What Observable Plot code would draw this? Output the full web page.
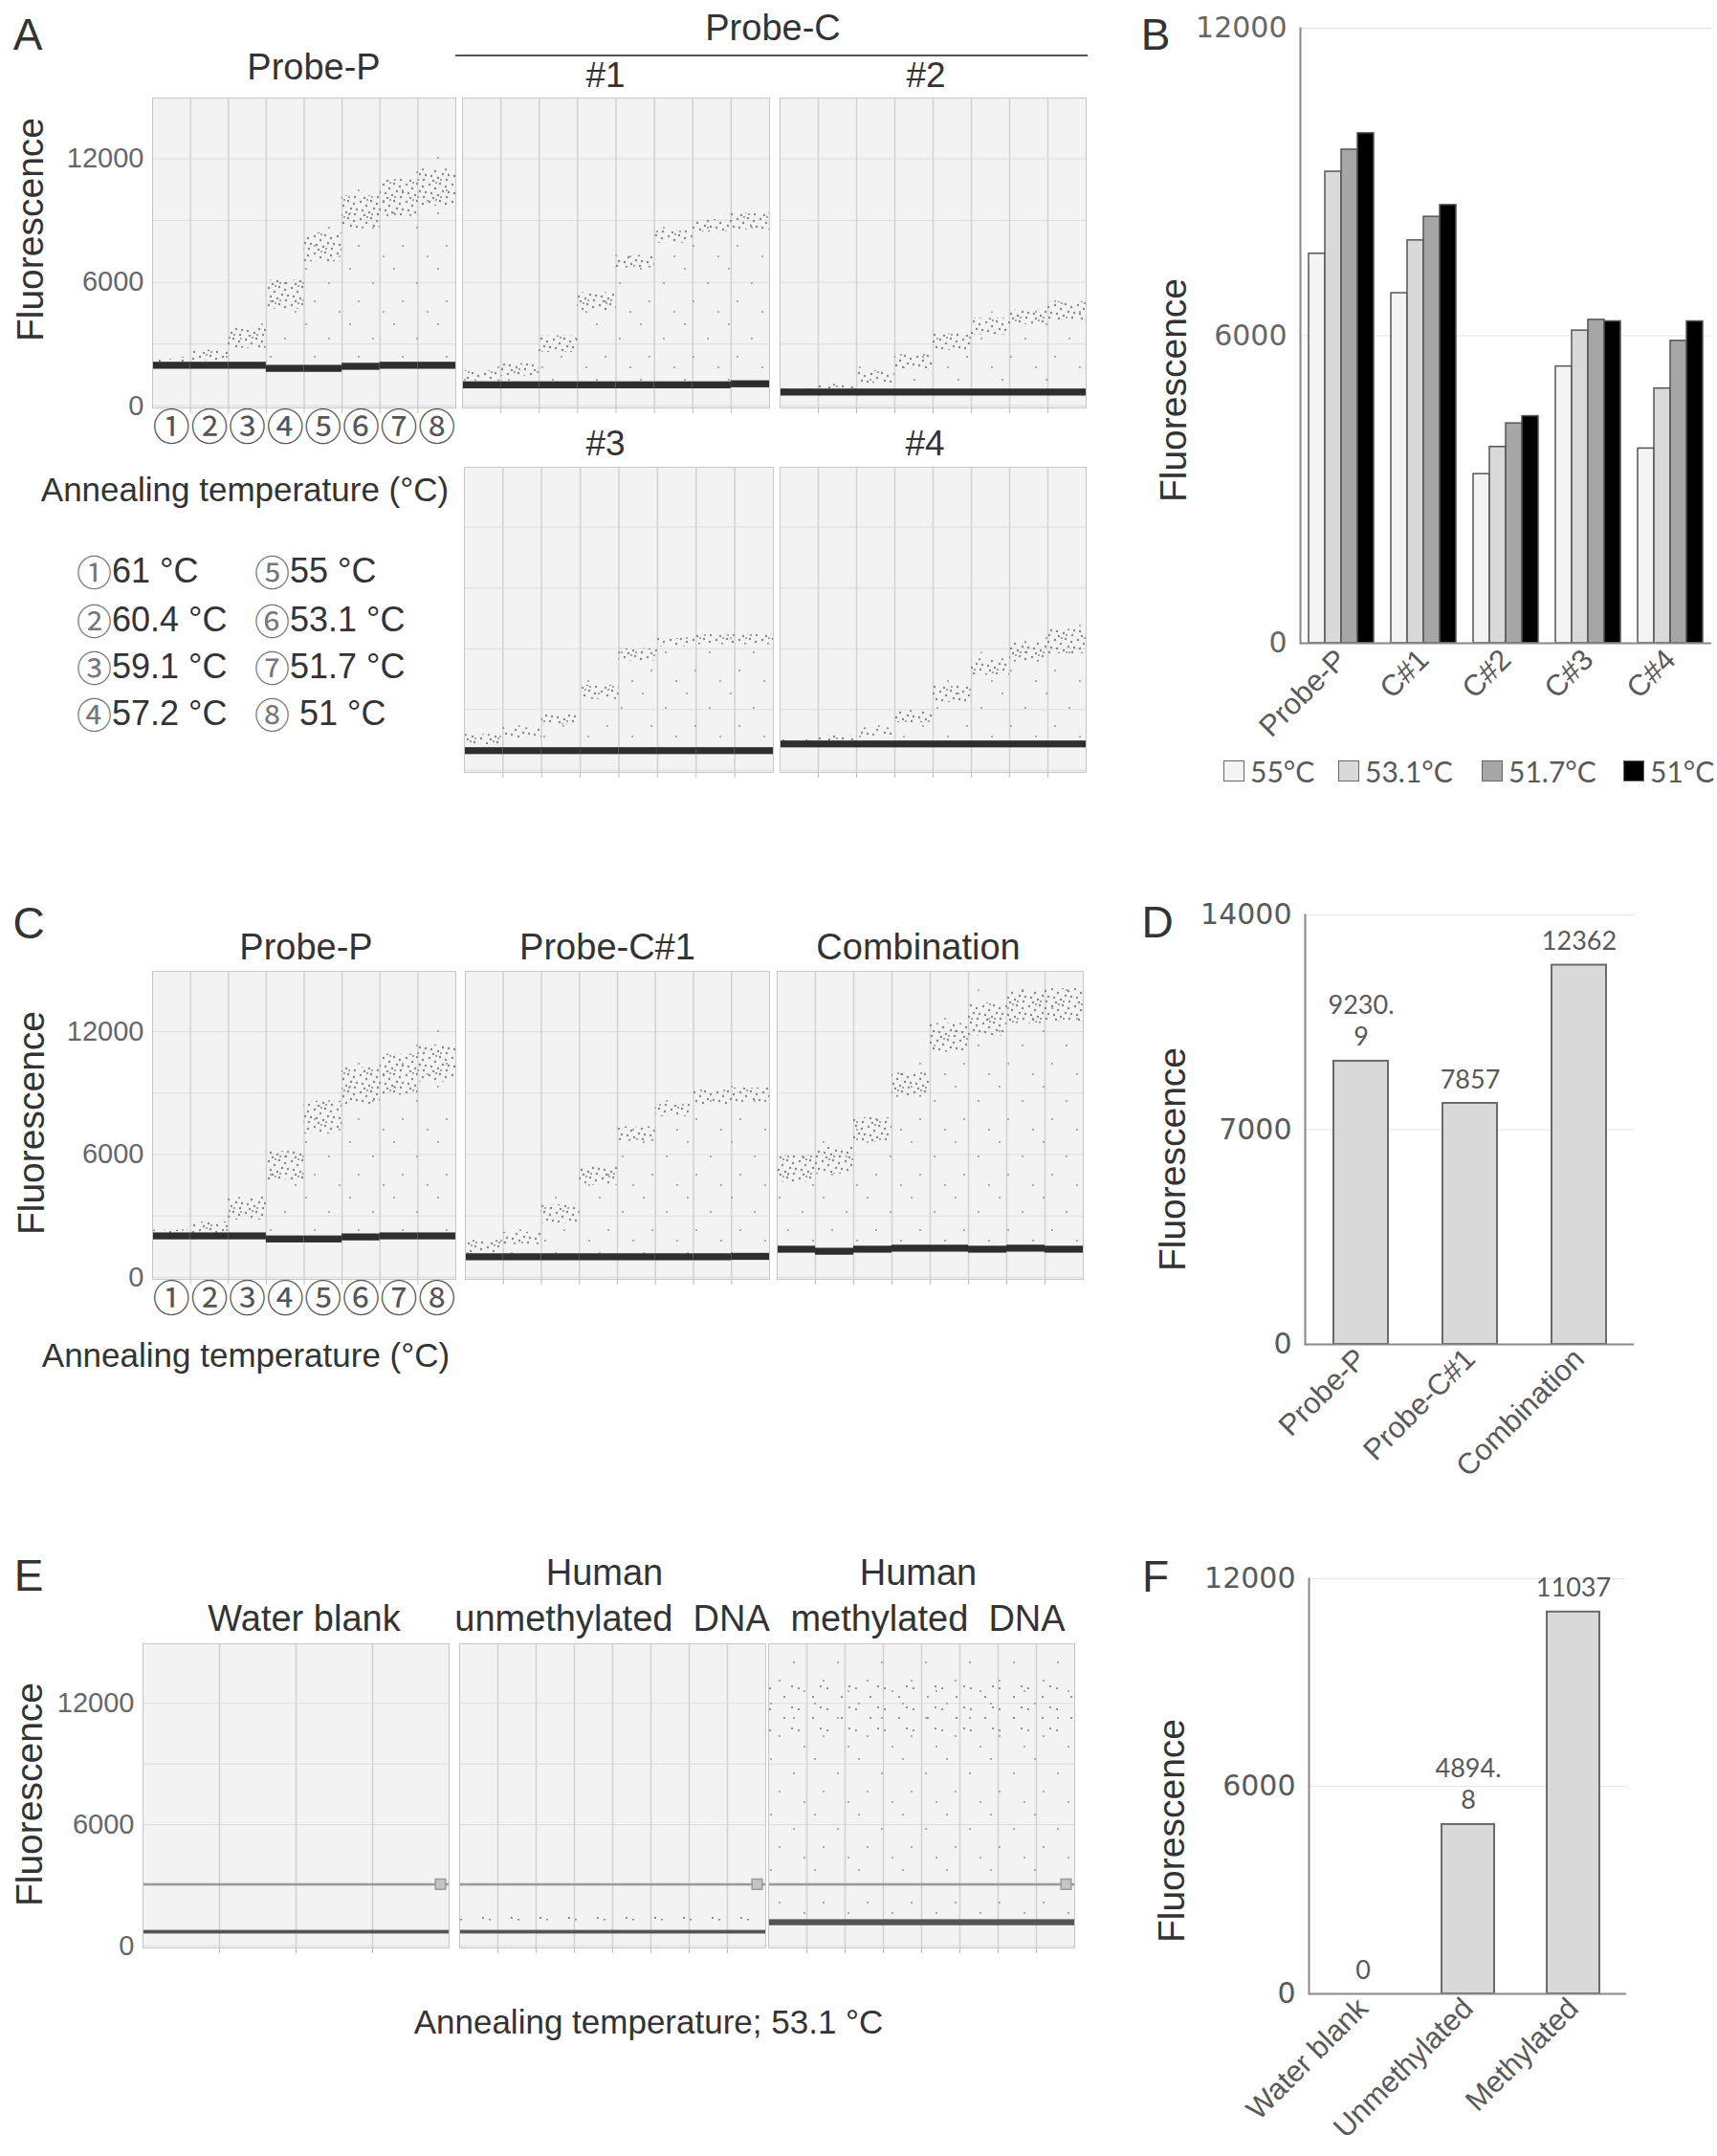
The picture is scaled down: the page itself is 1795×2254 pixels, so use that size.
<!DOCTYPE html>
<html>
<head>
<meta charset="utf-8">
<script src="https://cdn.jsdelivr.net/npm/d3@7"></script>
<script src="https://cdn.jsdelivr.net/npm/@observablehq/plot@0.6"></script>
<style>
  body { margin: 0; background: #fff; }
  #fig { position: relative; width: 1795px; height: 2254px; overflow: hidden;
         font-family: "Liberation Sans", Arial, sans-serif; color: #333; }
  .abs { position: absolute; }
  .c { position: absolute; transform: translate(-50%, -50%); white-space: pre; line-height: 1; }
  .letter { font-size: 46px; color: #333; }
  .title { font-size: 38px; color: #333; }
  .sub { font-size: 37px; color: #333; }
  .xlab { font-size: 35px; color: #333; }
  .ylab { font-size: 39px; color: #333; transform: translate(-50%, -50%) rotate(-90deg); }
  .circ { font-family: "Noto Sans CJK JP", sans-serif; color: #777; font-size: 37px; line-height: 1; }
  .leg { position: absolute; height: 40px; display: flex; align-items: center; font-size: 36px; color: #333;
         white-space: pre; line-height: 1; transform: translateY(-50%); }
  .bleg { position: absolute; display: flex; align-items: center; font-family: Lato, sans-serif;
          font-size: 30px; color: #595959; transform: translateY(-50%); }
  .bleg span.sq { display: inline-block; width: 20px; height: 20px; border: 1.5px solid #666; margin-right: 6px; }
  .probe-c-rule { position: absolute; left: 476px; top: 57px; width: 661px; border-top: 2px solid #555; }
</style>
</head>
<body>
<svg width="0" height="0" style="position:absolute">
  <defs>
    <pattern id="clus" width="24" height="18" patternUnits="userSpaceOnUse">
      <g fill="#858585">
        <circle cx="2" cy="3" r="1.2"/><circle cx="8" cy="7" r="1.2"/><circle cx="13" cy="2" r="1.2"/>
        <circle cx="19" cy="5" r="1.2"/><circle cx="22" cy="11" r="1.2"/><circle cx="4" cy="12" r="1.2"/>
        <circle cx="11" cy="14" r="1.2"/><circle cx="16" cy="10" r="1.2"/><circle cx="20" cy="16" r="1.2"/>
        <circle cx="6" cy="17" r="1.2"/><circle cx="14" cy="16" r="1"/><circle cx="9" cy="1" r="1"/>
      </g>
    </pattern>
    <pattern id="rain" width="46" height="58" patternUnits="userSpaceOnUse">
      <g fill="#999">
        <circle cx="5" cy="7" r="1.1"/><circle cx="29" cy="22" r="1.1"/>
        <circle cx="14" cy="41" r="1.1"/><circle cx="40" cy="52" r="1.1"/>
      </g>
    </pattern>
    <pattern id="sparse" width="30" height="22" patternUnits="userSpaceOnUse">
      <g fill="#7a7a7a">
        <circle cx="4" cy="5" r="1.1"/><circle cx="19" cy="14" r="1.1"/><circle cx="27" cy="3" r="1.1"/>
      </g>
    </pattern>
  </defs>
</svg>

<div id="fig">
  <div class="c letter" style="left:29px;top:36px">A</div>
  <div class="c letter" style="left:1208px;top:36px">B</div>
  <div class="c letter" style="left:30px;top:965px">C</div>
  <div class="c letter" style="left:1210px;top:964px">D</div>
  <div class="c letter" style="left:30px;top:1647px">E</div>
  <div class="c letter" style="left:1208px;top:1648px">F</div>

  <div class="c title" style="left:328px;top:70px">Probe-P</div>
  <div class="c title" style="left:808px;top:29px">Probe-C</div>
  <div class="probe-c-rule"></div>
  <div class="c sub" style="left:633px;top:78px">#1</div>
  <div class="c sub" style="left:968px;top:78px">#2</div>
  <div class="c sub" style="left:633px;top:463px">#3</div>
  <div class="c sub" style="left:967px;top:463px">#4</div>
  <div class="c ylab" style="left:31px;top:240px">Fluorescence</div>
  <div class="c xlab" style="left:256px;top:511px">Annealing temperature (°C)</div>

  <div class="c title" style="left:320px;top:990px">Probe-P</div>
  <div class="c title" style="left:635px;top:990px">Probe-C#1</div>
  <div class="c title" style="left:960px;top:990px">Combination</div>
  <div class="c ylab" style="left:32px;top:1174px">Fluorescence</div>
  <div class="c xlab" style="left:257px;top:1416px">Annealing temperature (°C)</div>

  <div class="c title" style="left:318px;top:1692px">Water blank</div>
  <div class="c title" style="left:632px;top:1644px">Human</div>
  <div class="c title" style="left:640px;top:1692px">unmethylated  DNA</div>
  <div class="c title" style="left:960px;top:1644px">Human</div>
  <div class="c title" style="left:970px;top:1692px">methylated  DNA</div>
  <div class="c ylab" style="left:30px;top:1876px">Fluorescence</div>
  <div class="c xlab" style="left:678px;top:2113px">Annealing temperature; 53.1 °C</div>

  <div class="c ylab" style="left:1226px;top:408px">Fluorescence</div>
  <div class="c ylab" style="left:1225px;top:1212px">Fluorescence</div>
  <div class="c ylab" style="left:1224px;top:1914px">Fluorescence</div>
</div>

<script>
// wells and annealing temperatures
const wells = [0, 1, 2, 3, 4, 5, 6, 7];
const circled = ["①", "②", "③", "④", "⑤", "⑥", "⑦", "⑧"];
const annealTemps = ["61 °C", "60.4 °C", "59.1 °C", "57.2 °C", "55 °C", "53.1 °C", "51.7 °C", " 51 °C"];
const yTicks = [0, 6000, 12000];
const yGrid = [0, 3000, 6000, 9000, 12000];

// A: droplet amplitudes per well (negative band, positive cluster centre, cluster half-spread)
const pNeg = [1950, 1950, 1950, 1800, 1800, 1900, 1950, 1950];
const pPos = [2100, 2450, 3300, 5400, 7700, 9400, 10100, 10600];
const pSpread = [150, 250, 500, 700, 700, 800, 900, 900];
const c1Neg = [1000, 1000, 1000, 1000, 1000, 1000, 1000, 1050];
const c1Pos = [1450, 1750, 3000, 5050, 7000, 8200, 8750, 8950];
const c1Spread = [250, 300, 400, 450, 300, 300, 300, 400];
const c2Neg = [650, 650, 650, 650, 650, 650, 650, 650];
const c2Pos = [720, 850, 1400, 2150, 3100, 3850, 4300, 4600];
const c2Spread = [120, 200, 300, 350, 400, 400, 350, 450];
const c3Neg = [950, 950, 950, 950, 950, 950, 950, 950];
const c3Pos = [1520, 1850, 2500, 3850, 5700, 6300, 6450, 6450];
const c3Spread = [250, 250, 250, 350, 300, 200, 250, 250];
const c4Neg = [1280, 1280, 1280, 1280, 1280, 1280, 1280, 1280];
const c4Pos = [1400, 1550, 1900, 2650, 3750, 5100, 5850, 6350];
const c4Spread = [100, 150, 200, 300, 400, 400, 500, 600];

// C: Probe-P, Probe-C#1 and the combination
const cpNeg = [2000, 2000, 2000, 1850, 1850, 1950, 2000, 2000];
const cpPos = [2150, 2400, 3350, 5450, 7800, 9350, 9900, 10450];
const cpSpread = [150, 300, 550, 700, 800, 900, 1000, 900];
const cc1Neg = [980, 980, 980, 980, 980, 980, 980, 1000];
const cc1Pos = [1500, 1900, 3100, 4950, 7000, 8150, 8800, 8900];
const cc1Spread = [300, 300, 450, 450, 350, 300, 350, 350];
const comboNeg = [1350, 1250, 1350, 1400, 1400, 1350, 1400, 1350];
const comboPos = [5300, 5700, 7200, 9400, 11700, 12600, 13200, 13300];
const comboSpread = [650, 650, 600, 600, 700, 800, 800, 800];

// E: 53.1 °C run
const eNeg = [680, 680, 1150];
const ePos = [null, 1350, 11900];
const eSpread = [0, 110, 1300];
const eThreshold = 3050;

// B: mean amplitude of positive droplets
const bGroups = ["Probe-P", "C#1", "C#2", "C#3", "C#4"];
const bTemps = ["55°C", "53.1°C", "51.7°C", "51°C"];
const b55 = [7600, 6830, 3300, 5400, 3800];
const b531 = [9200, 7860, 3830, 6100, 4970];
const b517 = [9630, 8320, 4290, 6310, 5900];
const b51 = [9950, 8550, 4430, 6280, 6280];
const bFills = ["#f4f4f4", "#d9d9d9", "#a6a6a6", "#000000"];

// D and F
const dCats = ["Probe-P", "Probe-C#1", "Combination"];
const dValues = [9230.9, 7857, 12362];
const dLabels = ["9230.\n9", "7857", "12362"];
const fCats = ["Water blank", "Unmethylated", "Methylated"];
const fValues = [0, 4894.8, 11037];
const fLabels = ["0", "4894.\n8", "11037"];

const fig = document.getElementById("fig");
const baseStyle = {fontFamily: "Liberation Sans, Arial, sans-serif", background: "transparent", overflow: "visible"};
const plain = (d) => String(d);

function place(node, left, top) {
  const div = document.createElement("div");
  div.className = "abs";
  div.style.left = left + "px";
  div.style.top = top + "px";
  div.appendChild(node);
  fig.appendChild(div);
}

function droplets(p) {
  const rows = wells.map((i) => ({
    well: i,
    neg: p.neg[i],
    pos: p.pos ? p.pos[i] : null,
    spread: p.spread ? p.spread[i] : 0,
  }));
  const pos = rows.filter((d) => d.pos != null);
  const x2 = (d) => d.well + 1;
  const ml = p.yAxis ? 120 : 2;
  const mb = p.xAxis ? 60 : 10;
  const chart = Plot.plot({
    width: p.W + ml + 2,
    height: p.H + 2 + mb,
    marginLeft: ml, marginRight: 2, marginTop: 2, marginBottom: mb,
    x: {domain: [0, 8], axis: null},
    y: {domain: [-100, 14950], axis: null},
    style: baseStyle,
    marks: [
      Plot.frame({fill: "#f3f3f3", stroke: "none"}),
      Plot.gridY(yGrid, {stroke: "#dcdcdc", strokeOpacity: 1}),
      Plot.ruleX(p.edges, {stroke: "#d2d2d2", strokeWidth: 1.5}),
      p.rain ? Plot.rect(pos, {x1: "well", x2, y1: "neg", y2: (d) => d.pos + d.spread * 1.8, fill: "url(#rain)"}) : null,
      Plot.rect(pos, {x1: "well", x2, y1: (d) => d.pos - d.spread, y2: (d) => d.pos + d.spread, fill: `url(#${p.pat || "clus"})`}),
      Plot.rect(rows, {x1: "well", x2, y1: (d) => d.neg - p.band, y2: (d) => d.neg + p.band, fill: p.negFill || "#2e2e2e"}),
      p.threshold ? Plot.ruleY([p.threshold], {stroke: "#9a9a9a", strokeWidth: 2.5}) : null,
      p.threshold ? Plot.dot([p.threshold], {y: (d) => d, frameAnchor: "right", symbol: "square", r: 6, fill: "#c4c4c4", stroke: "#9a9a9a", dx: -9}) : null,
      Plot.axisX(p.edges, {tickSize: 6, tickFormat: () => "", color: "#bbb", label: null}),
      p.yAxis ? Plot.axisY(yTicks, {tickSize: 0, tickPadding: 9, fontSize: 29, color: "#666", tickFormat: plain, label: null}) : null,
      p.xAxis ? Plot.axisX(wells.map((i) => i + 0.5), {tickSize: 0, tickPadding: 6, tickFormat: (v) => circled[Math.floor(v)], fontSize: 39, fontFamily: "Noto Sans CJK JP", color: "#555", label: null}) : null,
      Plot.frame({stroke: "#c6c6c6"}),
    ],
  });
  place(chart, p.L - ml, p.T - 2);
}

const eighths = [1, 2, 3, 4, 5, 6, 7];
const quarters = [2, 4, 6];
const bandA = 170;

// Panel A
droplets({L: 159, T: 102, W: 317, H: 324, neg: pNeg, pos: pPos, spread: pSpread, band: bandA, rain: true, edges: eighths, yAxis: true, xAxis: true});
droplets({L: 483, T: 102, W: 321, H: 324, neg: c1Neg, pos: c1Pos, spread: c1Spread, band: bandA, rain: true, edges: eighths});
droplets({L: 815, T: 102, W: 320, H: 324, neg: c2Neg, pos: c2Pos, spread: c2Spread, band: bandA, rain: true, edges: eighths});
droplets({L: 485, T: 488, W: 323, H: 319, neg: c3Neg, pos: c3Pos, spread: c3Spread, band: bandA, rain: true, edges: eighths});
droplets({L: 815, T: 488, W: 320, H: 319, neg: c4Neg, pos: c4Pos, spread: c4Spread, band: bandA, rain: true, edges: eighths});

// Panel C
droplets({L: 159, T: 1015, W: 317, H: 322, neg: cpNeg, pos: cpPos, spread: cpSpread, band: bandA, rain: true, edges: eighths, yAxis: true, xAxis: true});
droplets({L: 486, T: 1015, W: 318, H: 322, neg: cc1Neg, pos: cc1Pos, spread: cc1Spread, band: bandA, rain: true, edges: eighths});
droplets({L: 812, T: 1015, W: 320, H: 322, neg: comboNeg, pos: comboPos, spread: comboSpread, band: bandA, rain: true, edges: eighths});

// Panel E
const eL = [149, 480, 803];
[0, 1, 2].forEach((k) => {
  droplets({
    L: eL[k], T: 1718, W: 320, H: 318,
    neg: wells.map(() => eNeg[k]),
    pos: ePos[k] == null ? null : wells.map(() => ePos[k]),
    spread: wells.map(() => eSpread[k]),
    band: k === 2 ? 150 : 90, negFill: "#555",
    rain: k === 2, pat: "sparse",
    edges: k === 0 ? quarters : eighths,
    threshold: eThreshold, yAxis: k === 0,
  });
});

// Panel B
const bTable = bGroups.flatMap((g, i) =>
  bTemps.map((t, j) => ({group: g, temp: t, value: [b55, b531, b517, b51][j][i]})));
const bChart = Plot.plot({
  width: 546, height: 787,
  marginLeft: 110, marginRight: 4, marginTop: 14, marginBottom: 130,
  fx: {domain: bGroups, padding: 0},
  x: {domain: bTemps, paddingInner: 0, paddingOuter: 0.5, axis: null},
  y: {domain: [0, 12000]},
  color: {domain: bTemps, range: bFills},
  style: baseStyle,
  marks: [
    Plot.gridY([6000, 12000], {stroke: "#e3e3e3", strokeOpacity: 1}),
    Plot.barY(bTable, {fx: "group", x: "temp", y: "value", fill: "temp", stroke: "#555", strokeWidth: 1.5}),
    Plot.ruleY([0], {stroke: "#888", strokeWidth: 2}),
    Plot.frame({anchor: "left", facetAnchor: "left", stroke: "#888", strokeWidth: 2}),
    Plot.axisY(yTicks, {tickSize: 0, tickPadding: 14, fontSize: 30, fontFamily: "DejaVu Sans", color: "#666", tickFormat: plain, label: null}),
    Plot.axisFx({anchor: "bottom", tickRotate: -45, tickSize: 0, tickPadding: 12, fontSize: 31, color: "#595959", label: null}),
  ],
});
place(bChart, 1248, 15);

// B legend
const bLegLeft = [1279, 1399, 1549, 1697];
bTemps.forEach((t, j) => {
  const item = document.createElement("div");
  item.className = "bleg";
  item.style.left = bLegLeft[j] + "px";
  item.style.top = "806px";
  item.innerHTML = `<span class="sq" style="background:${bFills[j]}"></span>${t}`;
  fig.appendChild(item);
});

// A legend of well temperatures
const legRows = [597, 648, 697, 746];
const legCols = [80, 266];
annealTemps.forEach((t, i) => {
  const item = document.createElement("div");
  item.className = "leg";
  item.style.left = legCols[Math.floor(i / 4)] + "px";
  item.style.top = legRows[i % 4] + "px";
  item.innerHTML = `<span class="circ">${circled[i]}</span>${t}`;
  fig.appendChild(item);
});

function simpleBars(cats, values, labels, yMax, frame) {
  const table = cats.map((c, i) => ({cat: c, value: values[i], label: labels[i]}));
  const chart = Plot.plot({
    width: 110 + frame.W + 10, height: 14 + frame.H + frame.mb,
    marginLeft: 110, marginRight: 10, marginTop: 14, marginBottom: frame.mb,
    x: {domain: cats, paddingInner: 0.5, paddingOuter: 0.25},
    y: {domain: [0, yMax]},
    style: baseStyle,
    marks: [
      Plot.gridY([yMax / 2, yMax], {stroke: "#e6e6e6", strokeOpacity: 1}),
      Plot.barY(table, {x: "cat", y: "value", fill: "#d9d9d9", stroke: "#6b6b6b", strokeWidth: 2}),
      Plot.text(table, {x: "cat", y: "value", text: "label", lineAnchor: "bottom", dy: -16, lineHeight: 1.25,
                        fontSize: 27, fontFamily: "Lato", fill: "#595959"}),
      Plot.ruleY([0], {stroke: "#888", strokeWidth: 2}),
      Plot.frame({anchor: "left", stroke: "#888", strokeWidth: 2}),
      Plot.axisY([0, yMax / 2, yMax], {tickSize: 0, tickPadding: 14, fontSize: 30, fontFamily: "DejaVu Sans", color: "#595959", tickFormat: plain, label: null}),
      Plot.axisX({tickRotate: -45, tickSize: 0, tickPadding: 10, fontSize: 31, color: "#595959", label: null}),
    ],
  });
  place(chart, frame.L - 110, frame.T - 14);
}

simpleBars(dCats, dValues, dLabels, 14000, {L: 1364, T: 956, W: 344, H: 449, mb: 190});
simpleBars(fCats, fValues, fLabels, 12000, {L: 1368, T: 1650, W: 332, H: 434, mb: 165});
</script>
</body>
</html>
